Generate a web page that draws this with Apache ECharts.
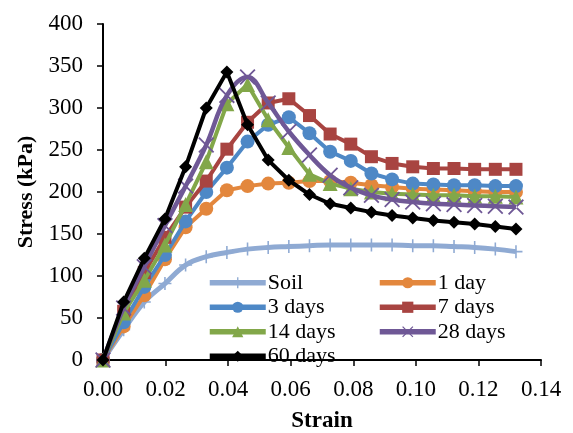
<!DOCTYPE html>
<html>
<head>
<meta charset="utf-8">
<script src="https://cdn.jsdelivr.net/npm/echarts@6/dist/echarts.min.js"></script>
<style>
  html, body { margin: 0; padding: 0; background: #fff; }
  #main { width: 573px; height: 433px; }
</style>
</head>
<body>
<div id="main"></div>
<script>
// strain values (shared by all curves)
const strain = [0, 0.0066, 0.0132, 0.0198, 0.0264, 0.033, 0.0396, 0.0462, 0.0528, 0.0594, 0.066,
  0.0726, 0.0792, 0.0858, 0.0924, 0.099, 0.1056, 0.1122, 0.1188, 0.1254, 0.132]

// stress (kPa)
const soil = [0, 36, 69, 91, 113, 123, 128, 132, 134, 135, 136, 137, 137, 137, 137, 136, 136, 135, 134, 132, 129]
const day1 = [0, 40, 77, 120, 158, 180, 202, 207, 210, 211, 213, 213, 211, 208, 206, 204, 203, 202, 201, 200, 200]
const day3 = [0, 45, 87, 125, 165, 200, 229, 260, 280, 289, 270, 248, 237, 222, 215, 210, 209, 208, 208, 207, 207]
const day7 = [0, 58, 104, 146, 182, 213, 251, 283, 306, 311, 291, 269, 257, 242, 234, 230, 228, 228, 227, 227, 227]
const day14 = [0, 56, 95, 137, 185, 236, 305, 328, 286, 253, 221, 210, 204, 200, 198, 197, 196, 196, 195, 195, 194]
const day28 = [0, 62, 111, 160, 207, 256, 315, 337, 306, 272, 244, 220, 205, 196, 191, 188, 186, 185, 184, 183, 182]
const day60 = [0, 69, 121, 168, 230, 300, 343, 280, 238, 214, 197, 186, 181, 176, 172, 169, 166, 164, 162, 159, 156]

const names = ['Soil', '1 day', '3 days', '7 days', '14 days', '28 days', '60 days']
const values = [soil, day1, day3, day7, day14, day28, day60]
const colors = ['#8FAAD3', '#E3873D', '#4E88C6', '#A84441', '#82A749', '#6F5896', '#000000']

const plusPath = 'path://M4.4,0h1.2v10h-1.2z M0,4.4h10v1.2h-10z'
const crossPath = 'path://M0,0.8L0.8,0L10,9.2L9.2,10Z M10,0.8L9.2,0L0,9.2L0.8,10Z'
const symbols = [plusPath, 'circle', 'circle', 'rect', 'triangle', crossPath, 'diamond']
const symSizes = [13, 14, 14, 13, 15, 16, 13]
const widths = [5, 4, 4, 4, 4, 4.5, 4]

const font = 'Liberation Serif'

let series = names.map((n, k) => ({
  name: n,
  type: 'line',
  data: strain.map((s, i) => [s, values[k][i]]),
  symbol: symbols[k],
  symbolSize: symSizes[k],
  showAllSymbol: true,
  smooth: (k === 0 || k === 5) ? 0.4 : false,
  lineStyle: { color: colors[k], width: widths[k] },
  itemStyle: { color: colors[k], borderWidth: 0 },
  emphasis: { disabled: true },
  z: 2 + k
}))

const legendBase = {
  orient: 'vertical',
  top: 266,
  itemWidth: 56,
  itemHeight: 14,
  itemGap: 1,
  lineStyle: { width: 5.5 },
  textStyle: { fontFamily: font, fontSize: 22, lineHeight: 23.5, color: '#000', padding: [0, 0, 0, -3] }
}

let myChart = echarts.init(document.getElementById('main'))
let option = {
  animation: false,
  backgroundColor: '#fff',
  grid: { left: 103, right: 32, top: 24, bottom: 73, containLabel: false, outerBoundsMode: 'none' },
  legend: [
    Object.assign({}, legendBase, { left: 202, data: ['Soil', '3 days', '14 days', '60 days'] }),
    Object.assign({}, legendBase, { left: 372, data: ['1 day', '7 days', '28 days'] })
  ],
  xAxis: {
    type: 'value',
    min: 0,
    max: 0.14,
    interval: 0.02,
    name: 'Strain',
    nameLocation: 'middle',
    nameGap: 50,
    nameTextStyle: { fontFamily: font, fontSize: 23, fontWeight: 'bold', color: '#000' },
    axisLine: { lineStyle: { color: '#000', width: 2 } },
    axisTick: { show: true, inside: false, length: 6, lineStyle: { color: '#000', width: 1.5 } },
    axisLabel: { fontFamily: font, fontSize: 23, color: '#000', margin: 18, formatter: v => v.toFixed(2) },
    splitLine: { show: false }
  },
  yAxis: {
    type: 'value',
    min: 0,
    max: 400,
    interval: 50,
    name: 'Stress (kPa)',
    nameLocation: 'middle',
    nameGap: 66,
    nameTextStyle: { fontFamily: font, fontSize: 22, fontWeight: 'bold', color: '#000' },
    axisLine: { show: true, lineStyle: { color: '#000', width: 2 } },
    axisTick: { show: true, inside: false, length: 6, lineStyle: { color: '#000', width: 1.5 } },
    axisLabel: { fontFamily: font, fontSize: 23, color: '#000', margin: 20 },
    splitLine: { show: false }
  },
  series: series
}
myChart.setOption(option) // 绘制画布
</script>
</body>
</html>
